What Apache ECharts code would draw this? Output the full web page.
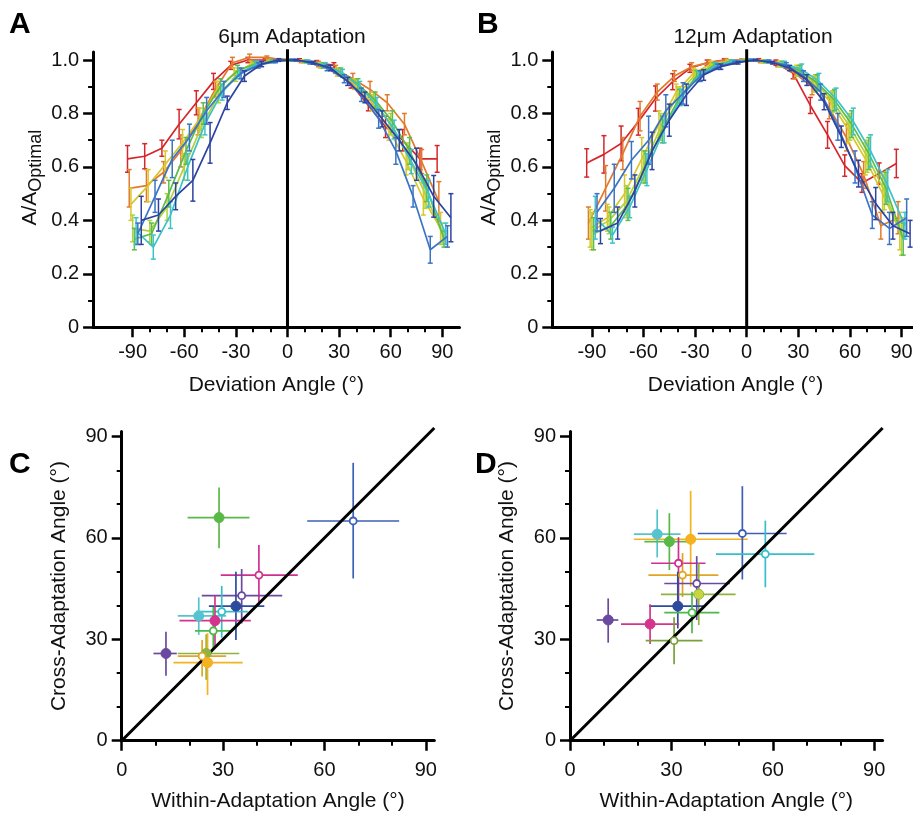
<!DOCTYPE html>
<html><head><meta charset="utf-8">
<script src="https://cdn.jsdelivr.net/npm/echarts@6/dist/echarts.min.js"></script>
<style>html,body{margin:0;padding:0;background:#fff}#c{width:913px;height:816px}</style>
</head><body><div id="c"></div>
<script>
// ---------- DATA ----------
const angles = [-90,-80,-70,-60,-50,-40,-30,-20,-10,0,10,20,30,40,50,60,70,80,90];
const xTickLabelsAB = [-90,-60,-30,0,30,60,90];
const yTickLabelsAB = [0,0.2,0.4,0.6,0.8,1.0];
const tickLabelsCD = [0,30,60,90];

// Panel A: 6μm adaptation (A/A optimal)
const a6Red    = [0.63,0.64,0.67,0.76,0.84,0.92,0.98,1.00,1.00,1.00,1.00,0.99,0.98,0.91,0.83,0.75,0.70,0.63,0.63];
const a6Orange = [0.52,0.53,0.58,0.66,0.77,0.89,0.99,1.01,1.01,1.00,0.995,0.985,0.965,0.93,0.89,0.84,0.76,0.62,0.47];
const a6Yellow = [0.46,0.53,0.61,0.69,0.78,0.89,0.95,0.985,0.995,1.00,0.995,0.98,0.955,0.91,0.84,0.74,0.62,0.48,0.37];
const a6Ygreen = [0.37,0.36,0.45,0.60,0.75,0.87,0.94,0.98,0.995,1.00,0.995,0.98,0.955,0.91,0.85,0.76,0.64,0.50,0.35];
const a6Green  = [0.33,0.35,0.50,0.66,0.80,0.90,0.96,0.985,0.995,1.00,0.995,0.98,0.955,0.91,0.85,0.77,0.66,0.52,0.33];
const a6Cyan   = [0.36,0.30,0.42,0.60,0.76,0.88,0.95,0.985,0.995,1.00,0.995,0.98,0.95,0.90,0.83,0.74,0.62,0.50,0.35];
const a6Blue   = [0.35,0.49,0.63,0.71,0.81,0.89,0.95,0.98,0.995,1.00,0.99,0.97,0.93,0.87,0.78,0.66,0.49,0.29,0.34];
const a6Navy   = [0.40,0.42,0.49,0.55,0.69,0.84,0.94,0.985,1.00,1.00,0.99,0.97,0.92,0.86,0.78,0.70,0.61,0.49,0.41];
const a6RedErr    = [0.05,0.047,0.03,0.055,0.045,0.03,0.015,0.01,0.005,0.003,0.005,0.008,0.01,0.015,0.02,0.04,0.04,0.04,0.05];
const a6OrangeErr = [0.07,0.06,0.04,0.06,0.05,0.03,0.02,0.012,0.005,0.003,0.005,0.01,0.015,0.02,0.03,0.03,0.04,0.045,0.075];
const a6YellowErr = [0.06,0.06,0.05,0.05,0.04,0.03,0.02,0.01,0.005,0.003,0.005,0.01,0.015,0.02,0.03,0.04,0.05,0.06,0.06];
const a6YgreenErr = [0.05,0.04,0.05,0.05,0.04,0.03,0.02,0.01,0.005,0.003,0.005,0.01,0.015,0.02,0.03,0.04,0.05,0.055,0.04];
const a6GreenErr  = [0.04,0.04,0.05,0.05,0.04,0.03,0.02,0.01,0.005,0.003,0.005,0.01,0.015,0.02,0.03,0.04,0.05,0.05,0.03];
const a6CyanErr   = [0.05,0.045,0.05,0.05,0.04,0.03,0.02,0.01,0.005,0.003,0.005,0.01,0.015,0.02,0.03,0.035,0.045,0.05,0.04];
const a6BlueErr   = [0.04,0.06,0.07,0.05,0.05,0.03,0.02,0.01,0.005,0.003,0.005,0.01,0.015,0.025,0.035,0.05,0.04,0.05,0.04];
const a6NavyErr   = [0.09,0.06,0.05,0.078,0.076,0.025,0.02,0.01,0.005,0.003,0.005,0.01,0.015,0.02,0.03,0.04,0.06,0.078,0.09];

// Panel B: 12μm adaptation
const b12Red    = [0.615,0.647,0.688,0.769,0.856,0.919,0.969,0.99,1.00,1.00,1.00,0.99,0.95,0.83,0.72,0.605,0.54,0.575,0.613];
const b12Orange = [0.39,0.52,0.65,0.79,0.88,0.94,0.975,0.99,1.00,1.00,0.995,0.985,0.95,0.90,0.82,0.71,0.57,0.38,0.41];
const b12Yellow = [0.37,0.41,0.50,0.63,0.76,0.88,0.95,0.985,0.995,1.00,0.995,0.985,0.96,0.91,0.84,0.74,0.63,0.50,0.36];
const b12Ygreen = [0.36,0.40,0.47,0.60,0.75,0.87,0.945,0.98,0.995,1.00,0.995,0.985,0.96,0.915,0.845,0.75,0.64,0.51,0.34];
const b12Green  = [0.35,0.38,0.46,0.60,0.74,0.86,0.94,0.98,0.995,1.00,0.995,0.985,0.96,0.915,0.85,0.76,0.65,0.52,0.33];
const b12Cyan   = [0.41,0.345,0.45,0.59,0.74,0.86,0.94,0.98,0.995,1.00,0.995,0.985,0.965,0.92,0.855,0.77,0.66,0.53,0.38];
const b12Blue   = [0.43,0.52,0.625,0.70,0.81,0.875,0.94,0.975,0.99,1.00,0.995,0.98,0.94,0.88,0.75,0.60,0.42,0.37,0.41];
const b12Navy   = [0.36,0.39,0.51,0.66,0.775,0.87,0.944,0.975,0.99,1.00,0.99,0.97,0.925,0.844,0.713,0.575,0.463,0.38,0.35];
const b12RedErr    = [0.053,0.07,0.065,0.05,0.047,0.03,0.015,0.01,0.005,0.003,0.005,0.01,0.02,0.03,0.05,0.04,0.035,0.04,0.053];
const b12OrangeErr = [0.06,0.085,0.06,0.055,0.03,0.02,0.015,0.01,0.005,0.003,0.005,0.01,0.02,0.03,0.04,0.05,0.05,0.05,0.06];
const b12YellowErr = [0.07,0.05,0.07,0.08,0.05,0.03,0.02,0.01,0.005,0.003,0.005,0.01,0.02,0.03,0.04,0.05,0.06,0.07,0.07];
const b12YgreenErr = [0.07,0.05,0.06,0.06,0.05,0.03,0.02,0.01,0.005,0.003,0.005,0.01,0.02,0.03,0.04,0.05,0.06,0.07,0.07];
const b12GreenErr  = [0.06,0.05,0.06,0.06,0.05,0.03,0.02,0.01,0.005,0.003,0.005,0.01,0.02,0.03,0.04,0.05,0.06,0.06,0.06];
const b12CyanErr   = [0.08,0.03,0.04,0.06,0.05,0.03,0.02,0.01,0.005,0.003,0.005,0.01,0.02,0.03,0.04,0.05,0.06,0.06,0.05];
const b12BlueErr   = [0.07,0.09,0.07,0.09,0.06,0.04,0.02,0.01,0.005,0.003,0.005,0.01,0.02,0.03,0.05,0.06,0.05,0.06,0.07];
const b12NavyErr   = [0.047,0.06,0.06,0.07,0.06,0.04,0.02,0.01,0.005,0.003,0.005,0.01,0.02,0.03,0.04,0.05,0.06,0.05,0.05];

// Panel C: within vs cross adaptation angle (degrees)
const cX    = [28.8,68.5,40.6,35.5,33.8,29.6,22.8,27.6,27.1,13.1,25.0,23.8,25.4];
const cY    = [66.0,65.0,49.0,42.9,39.8,38.2,36.9,35.5,32.5,25.8,25.8,25.0,23.1];
const cXLo  = [19.5,54.9,29.3,23.7,25.8,22.0,16.6,17.1,21.7,9.4,16.6,16.6,15.3];
const cXHi  = [37.8,82.1,52.1,47.5,42.2,37.3,30.9,38.2,32.8,16.3,34.8,30.9,35.8];
const cYLo  = [56.9,48.0,40.1,34.7,29.8,30.5,31.3,27.8,26.8,19.2,18.0,19.0,13.5];
const cYHi  = [74.9,82.2,57.9,50.8,50.0,45.8,42.4,42.9,39.6,32.2,31.5,29.8,31.8];

// Panel D
const dX    = [25.8,29.4,35.7,51.0,57.8,32.1,33.3,37.5,38.1,31.9,36.1,11.3,23.7,30.8];
const dY    = [61.1,58.9,59.6,61.3,55.2,52.5,49.0,46.5,43.3,39.8,37.9,35.7,34.5,29.6];
const dXLo  = [18.9,22.0,18.9,37.8,43.2,24.0,23.2,27.9,26.9,23.5,27.9,7.9,15.1,22.4];
const dXHi  = [32.7,35.5,52.6,64.1,72.3,40.1,43.9,47.3,49.0,39.6,44.2,14.3,32.3,39.2];
const dYLo  = [54.2,50.5,45.6,47.7,45.4,39.6,42.5,35.7,34.2,33.2,31.8,29.0,28.6,22.6];
const dYHi  = [68.4,67.3,73.9,75.3,65.1,60.2,55.5,54.6,52.5,50.0,44.1,42.1,40.4,36.5];

// ---------- STYLES ----------
const FONT = 'Liberation Sans';
const curveStyles = [
  {color:'#d7262b', dx:-3}, {color:'#e27a2e', dx:-2}, {color:'#d9c62d', dx:-1}, {color:'#b2d23a', dx:0},
  {color:'#5cbd4b', dx:1}, {color:'#3cc2c8', dx:2}, {color:'#3b74c5', dx:3}, {color:'#2d43a0', dx:5}
];
const aVals = [a6Red,a6Orange,a6Yellow,a6Ygreen,a6Green,a6Cyan,a6Blue,a6Navy];
const aErrs = [a6RedErr,a6OrangeErr,a6YellowErr,a6YgreenErr,a6GreenErr,a6CyanErr,a6BlueErr,a6NavyErr];
const bVals = [b12Red,b12Orange,b12Yellow,b12Ygreen,b12Green,b12Cyan,b12Blue,b12Navy];
const bErrs = [b12RedErr,b12OrangeErr,b12YellowErr,b12YgreenErr,b12GreenErr,b12CyanErr,b12BlueErr,b12NavyErr];

const cColors = ['#5ab946','#3d5fb5','#cf2f91','#6a4a9f','#2d4b9d','#36bfca','#55c4d0','#d3358d','#4cb848','#6a4a9f','#8db440','#e0a526','#f4b120'];
const cFilled = [true,false,false,false,true,false,true,true,false,true,true,false,true];
const dColors = ['#55c4d0','#5ab946','#f4b120','#3d5fb5','#36bfca','#cf2f91','#e0a526','#6a4a9f','#8fb33e','#2d4b9d','#4cb848','#6a4a9f','#d3358d','#7aa03a'];
const dFill   = [null,null,null,null,null,null,null,null,'#c9d53f',null,null,null,null,null];
const dFilled = [true,true,true,false,false,false,false,false,true,true,false,true,true,false];

// ---------- HELPERS ----------
const labelStyle = {color:'#111', fontSize:20, fontFamily:FONT};
const nameStyle = {color:'#111', fontSize:21, fontFamily:FONT};

function xAxes(gi, min, max, majors, minors, margin, name, nameGap) {
  return [
    {type:'value', gridIndex:gi, position:'bottom', min, max,
     axisLine:{show:true, onZero:false, lineStyle:{color:'#000', width:3}},
     axisTick:{show:true, customValues:majors, length:10, lineStyle:{color:'#000', width:2.5}},
     axisLabel:Object.assign({show:true, customValues:majors, margin}, labelStyle),
     splitLine:{show:false}, name, nameLocation:'middle', nameGap, nameTextStyle:nameStyle},
    {type:'value', gridIndex:gi, position:'bottom', min, max,
     axisLine:{show:false, onZero:false},
     axisTick:{show:true, customValues:minors, length:5, lineStyle:{color:'#000', width:2}},
     axisLabel:{show:false}, splitLine:{show:false}}
  ];
}
function yAxes(gi, min, max, majors, minors, margin, name, nameGap, nameTextStyle, fmt) {
  return [
    {type:'value', gridIndex:gi, position:'left', min, max,
     axisLine:{show:true, onZero:false, lineStyle:{color:'#000', width:3}},
     axisTick:{show:true, customValues:majors, length:10, lineStyle:{color:'#000', width:2.5}},
     axisLabel:Object.assign({show:true, customValues:majors, margin, formatter:fmt}, labelStyle),
     splitLine:{show:false}, name, nameLocation:'middle', nameGap, nameTextStyle},
    {type:'value', gridIndex:gi, position:'left', min, max,
     axisLine:{show:false, onZero:false},
     axisTick:{show:true, customValues:minors, length:5, lineStyle:{color:'#000', width:2}},
     axisLabel:{show:false}, splitLine:{show:false}}
  ];
}

function curveSeries(axisIdx, vals, errs) {
  const out = [];
  vals.forEach((v, k) => {
    const st = curveStyles[k];
    out.push({type:'line', xAxisIndex:axisIdx, yAxisIndex:axisIdx, z:2+k, silent:true,
      data: angles.map((a,i)=>[a+st.dx, v[i]]), showSymbol:false, symbol:'none',
      lineStyle:{color:st.color, width:1.7}, clip:false});
    out.push({type:'custom', xAxisIndex:axisIdx, yAxisIndex:axisIdx, z:2+k, silent:true, clip:false,
      data: angles.map((a,i)=>[a+st.dx, v[i], errs[k][i]]),
      renderItem(params, api) {
        const x = api.value(0), y = api.value(1), e = api.value(2);
        const t = api.coord([x, y+e]), b = api.coord([x, y-e]);
        const w = 2.5, s = {stroke:st.color, lineWidth:1.5};
        return {type:'group', children:[
          {type:'line', shape:{x1:t[0],y1:t[1],x2:b[0],y2:b[1]}, style:s},
          {type:'line', shape:{x1:t[0]-w,y1:t[1],x2:t[0]+w,y2:t[1]}, style:s},
          {type:'line', shape:{x1:b[0]-w,y1:b[1],x2:b[0]+w,y2:b[1]}, style:s}
        ]};
      }});
  });
  out.push({type:'line', xAxisIndex:axisIdx, yAxisIndex:axisIdx, z:20, silent:true, clip:false,
    data:[[0,0],[0,1.04]], symbol:'none', lineStyle:{color:'#000', width:3}});
  return out;
}

function scatterSeries(axisIdx, X, Y, XLo, XHi, YLo, YHi, colors, filled, fills) {
  return [
    {type:'custom', xAxisIndex:axisIdx, yAxisIndex:axisIdx, z:2, silent:true, clip:false,
     data: X.map((x,i)=>[x, Y[i], XLo[i], XHi[i], YLo[i], YHi[i]]),
     renderItem(params, api) {
       const col = colors[params.dataIndex];
       const x = api.value(0), y = api.value(1);
       const l = api.coord([api.value(2), y]), r = api.coord([api.value(3), y]);
       const lo = api.coord([x, api.value(4)]), hi = api.coord([x, api.value(5)]);
       const s = {stroke:col, lineWidth:1.7};
       return {type:'group', children:[
         {type:'line', shape:{x1:l[0],y1:l[1],x2:r[0],y2:r[1]}, style:s},
         {type:'line', shape:{x1:lo[0],y1:lo[1],x2:hi[0],y2:hi[1]}, style:s}
       ]};
     }},
    {type:'line', xAxisIndex:axisIdx, yAxisIndex:axisIdx, z:5, silent:true, clip:false,
     data:[[0,0],[92.5,92.5]], symbol:'none', lineStyle:{color:'#000', width:3}},
    {type:'scatter', xAxisIndex:axisIdx, yAxisIndex:axisIdx, z:10, silent:true,
     data: X.map((x,i)=>({value:[x, Y[i]],
       symbolSize: filled[i] ? 10 : 7,
       itemStyle: filled[i]
         ? {color:(fills && fills[i]) || colors[i], borderColor:colors[i], borderWidth:1, opacity:1}
         : {color:'#fff', borderColor:colors[i], borderWidth:1.8, opacity:1}}))}
  ];
}

const abNameStyle = {color:'#111', fontFamily:FONT, padding:[0,0,0,24],
  rich:{a:{fontSize:21, fontFamily:FONT, color:'#111'}, b:{fontSize:18, fontFamily:FONT, color:'#111', padding:[12,0,0,0]}}};
const fmtAB = v => v === 0 ? '0' : v.toFixed(1);

const xMinorAB = [-80,-70,-50,-40,-20,-10,10,20,40,50,70,80];
const yMinorAB = [0.1,0.3,0.5,0.7,0.9];
const minorCD = [10,20,40,50,70,80];

const letterStyle = {fontSize:30, fontWeight:'bold', fontFamily:FONT, color:'#000'};
const option = {
  backgroundColor:'#fff',
  animation:false,
  title:[
    {text:'A', left:4, top:5, textStyle:letterStyle},
    {text:'B', left:472, top:5, textStyle:letterStyle},
    {text:'C', left:4, top:445, textStyle:letterStyle},
    {text:'D', left:470, top:445, textStyle:letterStyle},
    {text:'6μm Adaptation', left:287, top:22, textAlign:'center', textStyle:{fontSize:21, fontWeight:'normal', fontFamily:FONT, color:'#111'}},
    {text:'12μm Adaptation', left:748, top:22, textAlign:'center', textStyle:{fontSize:21, fontWeight:'normal', fontFamily:FONT, color:'#111'}}
  ],
  grid:[
    {left:93.1, top:52, width:366.4, height:275.3, outerBoundsMode:'none', containLabel:false},
    {left:552.3, top:52, width:366.4, height:275.3, outerBoundsMode:'none', containLabel:false},
    {left:121.7, top:431.4, width:312.6, height:309.3, outerBoundsMode:'none', containLabel:false},
    {left:570, top:431.4, width:312.6, height:309.3, outerBoundsMode:'none', containLabel:false}
  ],
  xAxis:[
    ...xAxes(0, -113, 100, xTickLabelsAB, xMinorAB, 15, 'Deviation Angle (°)', 47),
    ...xAxes(1, -113, 100, xTickLabelsAB, xMinorAB, 15, 'Deviation Angle (°)', 47),
    ...xAxes(2, 0, 92.5, tickLabelsCD, minorCD, 20, 'Within-Adaptation Angle (°)', 50),
    ...xAxes(3, 0, 92.5, tickLabelsCD, minorCD, 20, 'Within-Adaptation Angle (°)', 50)
  ],
  yAxis:[
    ...yAxes(0, 0, 1.03, yTickLabelsAB, yMinorAB, 14, '{a|A/A}{b|Optimal}', 48, abNameStyle, fmtAB),
    ...yAxes(1, 0, 1.03, yTickLabelsAB, yMinorAB, 14, '{a|A/A}{b|Optimal}', 48, abNameStyle, fmtAB),
    ...yAxes(2, 0, 91.5, tickLabelsCD, minorCD, 14, 'Cross-Adaptation Angle (°)', 52, nameStyle),
    ...yAxes(3, 0, 91.5, tickLabelsCD, minorCD, 14, 'Cross-Adaptation Angle (°)', 52, nameStyle)
  ],
  series:[
    ...curveSeries(0, aVals, aErrs),
    ...curveSeries(2, bVals, bErrs),
    ...scatterSeries(4, cX, cY, cXLo, cXHi, cYLo, cYHi, cColors, cFilled, null),
    ...scatterSeries(6, dX, dY, dXLo, dXHi, dYLo, dYHi, dColors, dFilled, dFill)
  ]
};
const chart = echarts.init(document.getElementById('c'), null, {renderer:'canvas'});
chart.setOption(option);
</script></body></html>
